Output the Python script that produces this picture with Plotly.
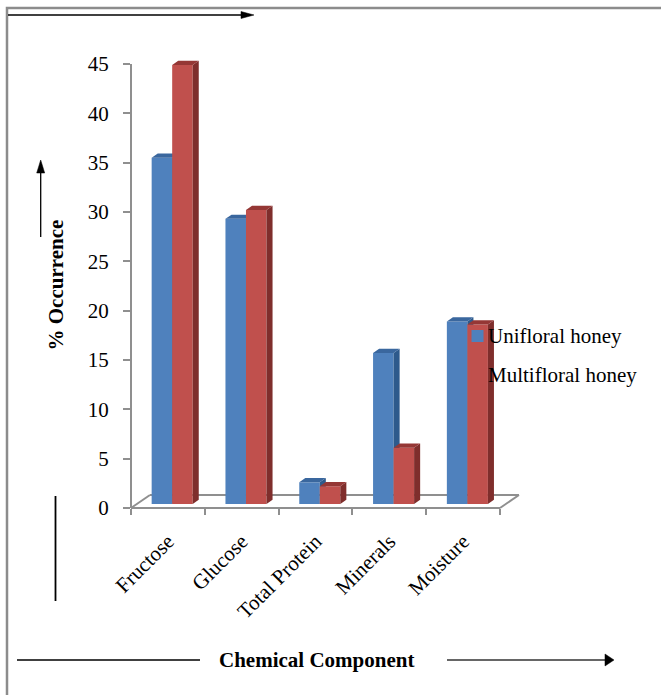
import plotly.graph_objects as go

# ---- data ----
categories = ["Fructose", "Glucose", "Total Protein", "Minerals", "Moisture"]
unifloral = [35.1, 28.9, 2.2, 15.3, 18.5]
multifloral = [44.5, 29.8, 1.8, 5.7, 18.2]
series_names = ["Unifloral honey", "Multifloral honey"]
y_ticks = [0, 5, 10, 15, 20, 25, 30, 35, 40, 45]

# ---- layout geometry ----
W, H = 661, 695
L, R, T, B = 131, 161, 58, 187
pw, ph = W - L - R, H - T - B
XR = [-0.5, 4.5]
YR = [0, 45.61]

def PX(x):  # pixel -> paper
    return (x - L) / pw

def PY(y):
    return (H - B - y) / ph

def DX(x):  # data -> paper
    return (x - XR[0]) / (XR[1] - XR[0])

def DY(y):
    return (y - YR[0]) / (YR[1] - YR[0])

FONT = "Liberation Serif"
GREY = "#8f8f8f"

bar_w = 0.278
off_blue = -0.22
off_red = off_blue + bar_w
base0 = 0.405
ddx, ddy = 0.082, 0.43  # bar depth
fdx, fdy = 0.257, 1.318  # floor depth

colors = {
    "blue": ("#4F81BD", "#2E5A8C", "#3A679E"),
    "red": ("#C0504D", "#7F2E2C", "#953735"),
}

fig = go.Figure()
idx = list(range(len(categories)))


def add_series(vals, off, name, cols, xa, ya):
    front, side, top = cols
    fig.add_trace(go.Bar(x=idx, y=vals, base=base0, width=bar_w, offset=off,
                         marker=dict(color=front, line=dict(width=0)),
                         name=name, showlegend=False, xaxis=xa, yaxis=ya,
                         hoverinfo="y+name"))
    sx, sy, tx, ty = [], [], [], []
    for i, v in zip(idx, vals):
        xl = i + off
        xr = xl + bar_w
        yt = base0 + v
        sx += [xr, xr + ddx, xr + ddx, xr, xr, None]
        sy += [base0, base0 + ddy, yt + ddy, yt, base0, None]
        tx += [xl, xr, xr + ddx, xl + ddx, xl, None]
        ty += [yt, yt, yt + ddy, yt + ddy, yt, None]
    fig.add_trace(go.Scatter(x=sx, y=sy, fill="toself", fillcolor=side, mode="lines",
                             line=dict(width=0, color=side), showlegend=False,
                             hoverinfo="skip", xaxis=xa, yaxis=ya))
    fig.add_trace(go.Scatter(x=tx, y=ty, fill="toself", fillcolor=top, mode="lines",
                             line=dict(width=0, color=top), showlegend=False,
                             hoverinfo="skip", xaxis=xa, yaxis=ya))


add_series(unifloral, off_blue, series_names[0], colors["blue"], "x", "y")
add_series(multifloral, off_red, series_names[1], colors["red"], "x2", "y2")

shapes = []
# floor (below traces)
floor = [((XR[0], 0), (XR[1], 0)),
         ((XR[0] + fdx, fdy), (XR[1] + fdx, fdy)),
         ((XR[0], 0), (XR[0] + fdx, fdy)),
         ((XR[1], 0), (XR[1] + fdx, fdy))]
for (a, b) in floor:
    shapes.append(dict(type="line", xref="paper", yref="paper", layer="below",
                       x0=DX(a[0]), y0=DY(a[1]), x1=DX(b[0]), y1=DY(b[1]),
                       line=dict(color=GREY, width=2)))
# y axis line
shapes.append(dict(type="line", xref="paper", yref="paper", layer="below",
                   x0=DX(XR[0]), y0=DY(0), x1=DX(XR[0]), y1=DY(45),
                   line=dict(color=GREY, width=2)))

# border
shapes.append(dict(type="rect", xref="paper", yref="paper", layer="below",
                   x0=PX(7), y0=PY(8), x1=PX(720), y1=PY(760),
                   line=dict(color="#8c8c8c", width=2.5)))


def line_px(x0, y0, x1, y1, w=1.5, c="black"):
    shapes.append(dict(type="line", xref="paper", yref="paper",
                       x0=PX(x0), y0=PY(y0), x1=PX(x1), y1=PY(y1),
                       line=dict(color=c, width=w)))


def tri_px(pts, c="black"):
    p = "M " + " L ".join(f"{PX(a):.5f},{PY(b):.5f}" for a, b in pts) + " Z"
    shapes.append(dict(type="path", xref="paper", yref="paper", path=p,
                       fillcolor=c, line=dict(color=c, width=0.5)))


# top arrow
line_px(8, 15, 243, 15, 1.3)
tri_px([(254, 15), (241, 11.5), (241, 18.5)])
# y-title arrow
line_px(40.7, 237, 40.7, 170, 1.3)
tri_px([(40.7, 160), (36.7, 173), (44.7, 173)])
# vertical line below
line_px(55.5, 496, 55.5, 601, 1.8)
# bottom lines
line_px(17, 660, 200, 660, 1.5)
line_px(447, 660, 607, 660, 1.5, "#333333")
tri_px([(614, 660), (605, 654), (605, 666)])

# manual legend
shapes.append(dict(type="rect", xref="paper", yref="paper",
                   x0=PX(471.5), y0=PY(330), x1=PX(483.5), y1=PY(342),
                   fillcolor=colors["blue"][0], line=dict(width=0)))
shapes.append(dict(type="rect", xref="paper", yref="paper",
                   x0=PX(471.5), y0=PY(369), x1=PX(483.5), y1=PY(381),
                   fillcolor=colors["red"][0], line=dict(width=0)))

annotations = [
    dict(text=series_names[0], xref="paper", yref="paper", x=PX(485.5), y=PY(335.5),
         xanchor="left", yanchor="middle", showarrow=False,
         font=dict(family=FONT, size=21, color="black")),
    dict(text=series_names[1], xref="paper", yref="paper", x=PX(485.5), y=PY(375.5),
         xanchor="left", yanchor="middle", showarrow=False,
         font=dict(family=FONT, size=21, color="black")),
    dict(text="<b>% Occurrence</b>", xref="paper", yref="paper", x=PX(55), y=PY(285.5),
         xanchor="center", yanchor="middle", textangle=-90, showarrow=False,
         font=dict(family=FONT, size=21, color="black")),
    dict(text="<b>Chemical Component</b>", xref="paper", yref="paper", x=PX(316), y=PY(660),
         xanchor="center", yanchor="middle", showarrow=False,
         font=dict(family=FONT, size=21, color="black")),
]

fig.update_layout(
    width=W, height=H,
    margin=dict(l=L, r=R, t=T, b=B, autoexpand=False),
    paper_bgcolor="white", plot_bgcolor="rgba(0,0,0,0)",
    showlegend=False,
    barmode="overlay",
    shapes=shapes, annotations=annotations,
    xaxis=dict(range=XR, tickvals=[i - 0.5 for i in range(6)], showticklabels=False,
               ticks="outside", ticklen=6, tickwidth=2, tickcolor=GREY,
               showgrid=False, zeroline=False, showline=False, fixedrange=True),
    xaxis2=dict(range=XR, overlaying="x", anchor="y", side="bottom",
                tickvals=idx, ticktext=categories, tickangle=-45, ticks="",
                ticklabelstandoff=16,
                tickfont=dict(family=FONT, size=21, color="black"),
                showgrid=False, zeroline=False, showline=False, fixedrange=True),
    yaxis=dict(range=YR, tickvals=y_ticks, ticks="outside", ticklen=7, tickwidth=2,
               tickcolor=GREY, ticklabelstandoff=10,
               tickfont=dict(family=FONT, size=21, color="black"),
               showgrid=False, zeroline=False, showline=False, fixedrange=True),
    yaxis2=dict(range=YR, overlaying="y", anchor="x", visible=False, fixedrange=True),
)

fig.write_html("out.html",
               config={"displayModeBar": False},
               post_script="document.body.style.margin='0';"
                           "document.body.style.overflow='hidden';")
